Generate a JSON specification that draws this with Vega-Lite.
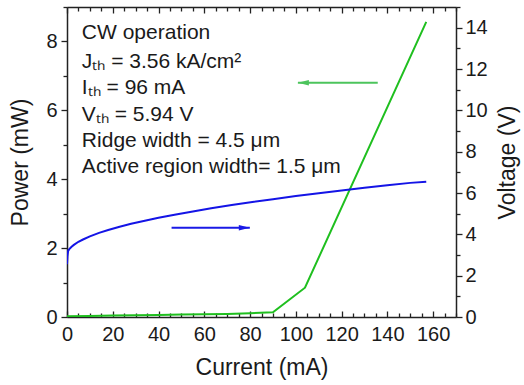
{
  "$schema": "https://vega.github.io/schema/vega-lite/v6.json",
  "autosize": "none",
  "width": 389,
  "height": 310,
  "padding": {"left": 67, "top": 7, "right": 68, "bottom": 68},
  "background": "white",
  "config": {
    "view": {"stroke": null},
    "axis": {
      "labelFont": "Liberation Sans",
      "titleFont": "Liberation Sans",
      "labelFontSize": 20,
      "titleFontSize": 23,
      "titleFontWeight": "normal",
      "labelColor": "#1a1a1a",
      "titleColor": "#1a1a1a",
      "domainColor": "#222",
      "tickColor": "#222",
      "domainWidth": 1.5,
      "tickWidth": 1.3,
      "grid": false
    }
  },
  "datasets": {
    "power": [
      {"I": 0, "P": 0.02}, {"I": 10, "P": 0.03}, {"I": 20, "P": 0.04}, {"I": 30, "P": 0.05},
      {"I": 40, "P": 0.06}, {"I": 50, "P": 0.07}, {"I": 60, "P": 0.08}, {"I": 70, "P": 0.09},
      {"I": 80, "P": 0.11}, {"I": 90, "P": 0.14}, {"I": 104, "P": 0.85}, {"I": 157, "P": 8.57}
    ],
    "voltage": [
      {"I": 0, "V": 2.55}, {"I": 0.2, "V": 2.95}, {"I": 0.5, "V": 3.2}, {"I": 1, "V": 3.285},
      {"I": 2, "V": 3.4}, {"I": 3, "V": 3.49}, {"I": 5, "V": 3.64}, {"I": 7, "V": 3.75},
      {"I": 10, "V": 3.9}, {"I": 14, "V": 4.07}, {"I": 18, "V": 4.21}, {"I": 23, "V": 4.37},
      {"I": 28, "V": 4.51}, {"I": 34, "V": 4.66}, {"I": 40, "V": 4.8}, {"I": 47, "V": 4.95},
      {"I": 55, "V": 5.11}, {"I": 63, "V": 5.26}, {"I": 72, "V": 5.42}, {"I": 81, "V": 5.57},
      {"I": 90, "V": 5.7}, {"I": 100, "V": 5.85}, {"I": 110, "V": 5.99}, {"I": 120, "V": 6.12},
      {"I": 130, "V": 6.25}, {"I": 140, "V": 6.37}, {"I": 150, "V": 6.49}, {"I": 157, "V": 6.55}
    ],
    "notes": [
      {"I": 6.5, "P": 8.08, "text": "CW operation"},
      {"I": 6.5, "P": 7.24, "text": "Jₜₕ = 3.56 kA/cm²"},
      {"I": 6.5, "P": 6.48, "text": "Iₜₕ = 96 mA"},
      {"I": 6.5, "P": 5.70, "text": "Vₜₕ = 5.94 V"},
      {"I": 6.5, "P": 4.94, "text": "Ridge width = 4.5 μm"},
      {"I": 6.5, "P": 4.19, "text": "Active region width= 1.5 μm"}
    ],
    "arrows": [
      {"name": "green", "from": 135.8, "to": 100.9, "P": 6.8, "color": "#4cc45c", "shape": "M2,-0.5L0,0L2,0.5Z"},
      {"name": "blue", "from": 45.7, "to": 79.9, "P": 2.59, "color": "#1a1ae6", "shape": "M-2,-0.5L0,0L-2,0.5Z"}
    ]
  },
  "encoding": {
    "x": {"field": "I", "type": "quantitative", "scale": {"domain": [0, 170], "nice": false, "zero": false}}
  },
  "layer": [
    {
      "data": {"name": "power"},
      "mark": {"type": "line", "color": "#1fbf1f", "strokeWidth": 2, "clip": true},
      "encoding": {
        "x": {"field": "I", "type": "quantitative", "scale": {"domain": [0, 170], "nice": false},
          "axis": {"orient": "bottom", "title": "Current (mA)", "values": [0,5,10,15,20,25,30,35,40,45,50,55,60,65,70,75,80,85,90,95,100,105,110,115,120,125,130,135,140,145,150,155,160,165,170],
            "labelExpr": "datum.value % 20 === 0 && datum.value <= 160 ? datum.label : ''",
            "tickSize": {"condition": {"test": "datum.value % 20 === 0", "value": -6}, "value": -4},
            "labelPadding": 13, "titlePadding": 12, "labelFlush": false}},
        "y": {"field": "P", "type": "quantitative", "scale": {"domain": [0, 9], "nice": false},
          "axis": {"orient": "left", "title": "Power (mW)", "values": [0,1,2,3,4,5,6,7,8,9],
            "labelExpr": "datum.value % 2 === 0 ? datum.label : ''",
            "tickSize": {"condition": {"test": "datum.value % 2 === 0", "value": 6}, "value": 4},
            "labelPadding": 4, "titlePadding": 13, "labelFlush": false}}
      }
    },
    {
      "data": {"name": "voltage"},
      "mark": {"type": "line", "color": "#1414e6", "strokeWidth": 2, "clip": true},
      "encoding": {
        "x": {"field": "I", "type": "quantitative", "scale": {"domain": [0, 170], "nice": false},
          "axis": {"orient": "top", "title": null, "values": [0,5,10,15,20,25,30,35,40,45,50,55,60,65,70,75,80,85,90,95,100,105,110,115,120,125,130,135,140,145,150,155,160,165,170],
            "labels": false,
            "tickSize": {"condition": {"test": "datum.value % 20 === 0", "value": -6}, "value": -4}}},
        "y": {"field": "V", "type": "quantitative", "scale": {"domain": [0, 15], "nice": false},
          "axis": {"orient": "right", "title": "Voltage (V)", "titleAngle": -90, "values": [0,1,2,3,4,5,6,7,8,9,10,11,12,13,14,15],
            "labelExpr": "datum.value % 2 === 0 ? datum.label : ''",
            "tickSize": {"condition": {"test": "datum.value % 2 === 0", "value": 6}, "value": 4},
            "labelPadding": 3, "titlePadding": 32, "labelFlush": false}}
      }
    },
    {
      "data": {"name": "notes"},
      "mark": {"type": "text", "align": "left", "baseline": "alphabetic", "font": "Liberation Sans", "fontSize": 21, "color": "#1a1a1a"},
      "encoding": {
        "x": {"field": "I", "type": "quantitative", "scale": {"domain": [0, 170], "nice": false}, "axis": null},
        "y": {"field": "P", "type": "quantitative", "scale": {"domain": [0, 9], "nice": false}, "axis": null},
        "text": {"field": "text"}
      }
    },
    {
      "data": {"name": "arrows"},
      "mark": {"type": "rule", "strokeWidth": 2},
      "encoding": {
        "x": {"field": "from", "type": "quantitative", "scale": {"domain": [0, 170], "nice": false}, "axis": null},
        "x2": {"field": "to"},
        "y": {"field": "P", "type": "quantitative", "scale": {"domain": [0, 9], "nice": false}, "axis": null},
        "color": {"field": "color", "type": "nominal", "scale": null}
      }
    },
    {
      "data": {"name": "arrows"},
      "mark": {"type": "point", "filled": true, "size": 121, "opacity": 1},
      "encoding": {
        "x": {"field": "to", "type": "quantitative", "scale": {"domain": [0, 170], "nice": false}, "axis": null},
        "y": {"field": "P", "type": "quantitative", "scale": {"domain": [0, 9], "nice": false}, "axis": null},
        "shape": {"field": "shape", "type": "nominal", "scale": null},
        "color": {"field": "color", "type": "nominal", "scale": null}
      }
    }
  ],
  "resolve": {"scale": {"y": "independent"}, "axis": {"x": "independent", "y": "independent"}}
}
